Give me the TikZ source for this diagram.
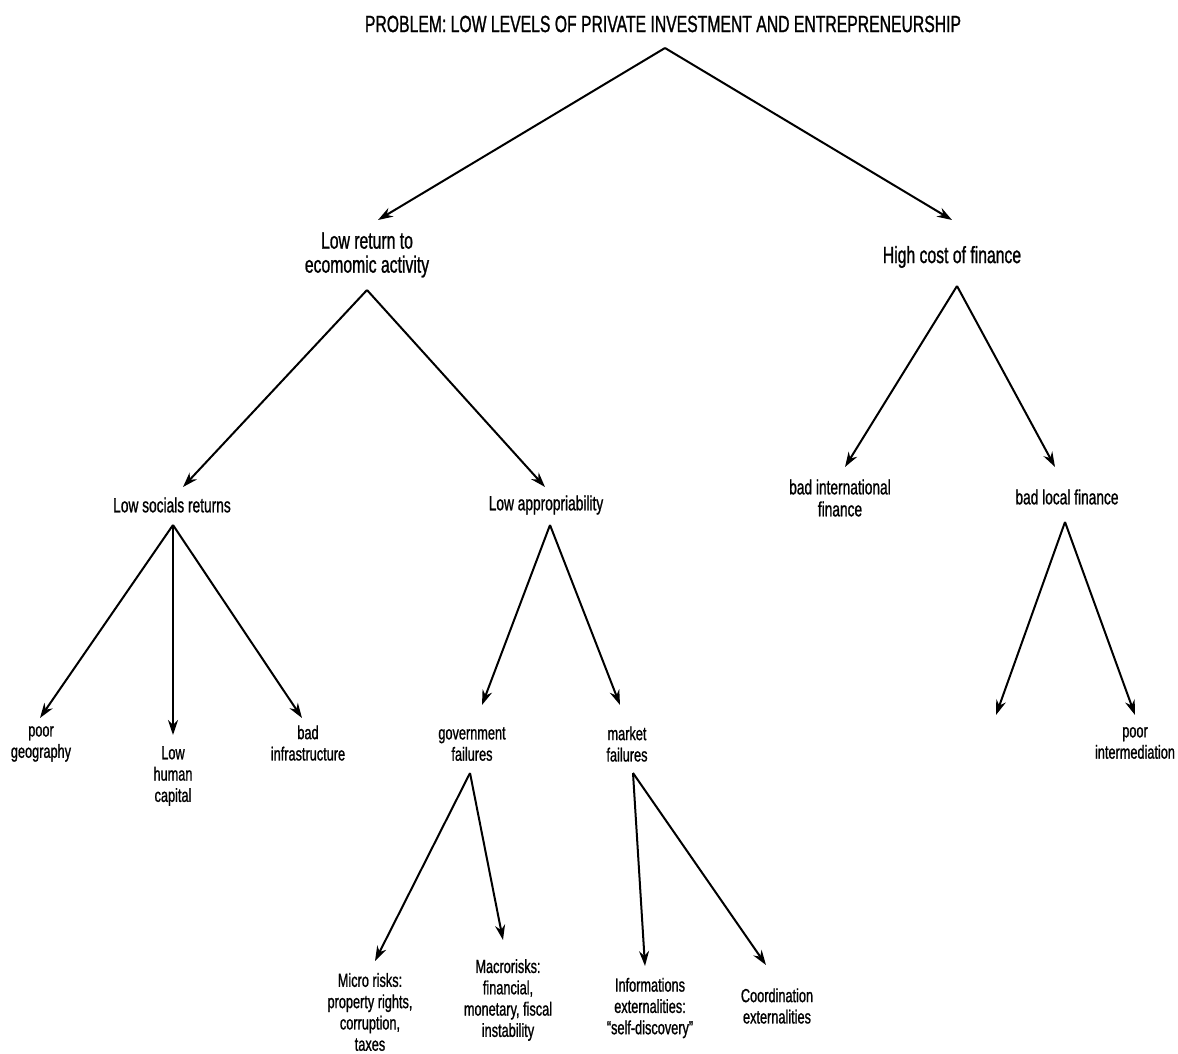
\documentclass[tikz,border=0pt]{standalone}
\usepackage{fontspec}
\setmainfont[FakeStretch=0.67,FakeBold=1.0]{Liberation Sans}
\usetikzlibrary{arrows.meta}

\tikzset{
  toplabel/.style={align=center,font=\fontsize{23.5}{24}\selectfont},
  midlabel/.style={align=center,font=\fontsize{20.5}{22}\selectfont},
  leaflabel/.style={align=center,font=\fontsize{19}{21.3}\selectfont},
  cause/.style={-{Stealth[length=15pt,width=10pt]},line width=2pt}
}

\begin{document}
\begin{tikzpicture}[x=1pt,y=-1pt]
  \useasboundingbox (0,0) rectangle (1178,1054);

  % top level
  \node[toplabel] (problem) at (663,24) {PROBLEM: LOW LEVELS OF PRIVATE INVESTMENT AND ENTREPRENEURSHIP};
  \node[toplabel] (lowreturn) at (367,255) {Low return to\\ecomomic activity};
  \node[toplabel] (highcost) at (952,257) {High cost of finance};

  % second level
  \node[midlabel] (socreturn) at (172,505) {Low socials returns};
  \node[midlabel] (appropr) at (546,505) {Low appropriability};
  \node[midlabel] (intfinance) at (840,498) {bad international\\finance};
  \node[midlabel] (locfinance) at (1067,497) {bad local finance};

  % third level
  \node[leaflabel] (geography) at (41,744) {poor\\geography};
  \node[leaflabel] (humancap) at (173,776) {Low\\human\\capital};
  \node[leaflabel] (infra) at (308,743) {bad\\infrastructure};
  \node[leaflabel] (govfail) at (472,744) {government\\failures};
  \node[leaflabel] (mktfail) at (627,744) {market\\failures};
  \node[leaflabel] (intermed) at (1135,743) {poor\\intermediation};
  \coordinate (locblank) at (996,715);

  % fourth level
  \node[leaflabel] (microrisk) at (370,1012) {Micro risks:\\property rights,\\corruption,\\taxes};
  \node[leaflabel] (macrorisk) at (508,1000) {Macrorisks:\\financial,\\monetary, fiscal\\instability};
  \node[leaflabel] (infoext) at (650,1008) {Informations\\externalities:\\“self-discovery”};
  \node[leaflabel] (coordext) at (777,1006) {Coordination\\externalities};

  % arrows
  \draw[cause] ([shift={(2,24)}]problem.center) -- ([shift={(11,-35)}]lowreturn.center);
  \draw[cause] ([shift={(2,24)}]problem.center) -- ([shift={(0,-37)}]highcost.center);
  \draw[cause] ([shift={(0,35)}]lowreturn.center) -- ([shift={(11,-18)}]socreturn.center);
  \draw[cause] ([shift={(0,35)}]lowreturn.center) -- ([shift={(-1,-18)}]appropr.center);
  \draw[cause] ([shift={(5,29)}]highcost.center) -- ([shift={(5,-31)}]intfinance.center);
  \draw[cause] ([shift={(5,29)}]highcost.center) -- ([shift={(-12,-30)}]locfinance.center);
  \draw[cause] ([shift={(1,20)}]socreturn.center) -- ([shift={(-1,-26)}]geography.center);
  \draw[cause] ([shift={(1,20)}]socreturn.center) -- ([shift={(0,-41)}]humancap.center);
  \draw[cause] ([shift={(1,20)}]socreturn.center) -- ([shift={(-6,-25)}]infra.center);
  \draw[cause] ([shift={(4,20)}]appropr.center) -- ([shift={(10,-39)}]govfail.center);
  \draw[cause] ([shift={(4,20)}]appropr.center) -- ([shift={(-7,-39)}]mktfail.center);
  \draw[cause] ([shift={(-2,25)}]locfinance.center) -- (locblank);
  \draw[cause] ([shift={(-2,25)}]locfinance.center) -- ([shift={(0,-28)}]intermed.center);
  \draw[cause] ([shift={(-2,29)}]govfail.center) -- ([shift={(5,-51)}]microrisk.center);
  \draw[cause] ([shift={(-2,29)}]govfail.center) -- ([shift={(-5,-60)}]macrorisk.center);
  \draw[cause] ([shift={(6,29)}]mktfail.center) -- ([shift={(-5,-42)}]infoext.center);
  \draw[cause] ([shift={(6,29)}]mktfail.center) -- ([shift={(-11,-41)}]coordext.center);
\end{tikzpicture}
\end{document}
